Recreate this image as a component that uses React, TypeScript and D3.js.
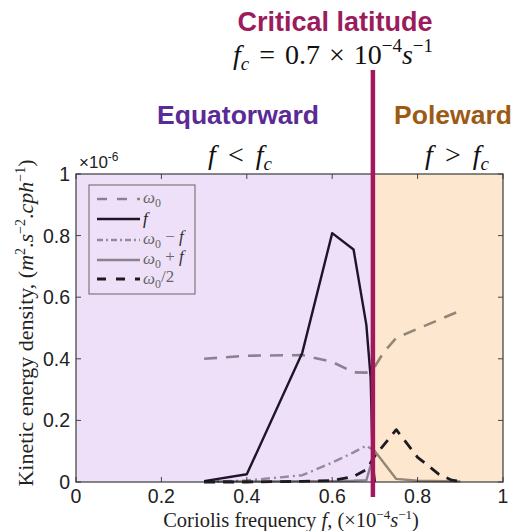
import * as d3 from 'd3'

// values in units of 1e-6 (y) and 1e-4 s^-1 (x)
const omega0X = [0.3, 0.4, 0.53, 0.6, 0.65, 0.68, 0.7, 0.72, 0.75, 0.9]
const omega0Y = [0.4, 0.41, 0.412, 0.39, 0.356, 0.355, 0.375, 0.42, 0.468, 0.556]

const fX = [0.3, 0.4, 0.53, 0.6, 0.65, 0.68, 0.69, 0.695, 0.7]
const fY = [0.003, 0.025, 0.42, 0.808, 0.755, 0.51, 0.34, 0.06, 0.0]

const omMinusFX = [0.3, 0.4, 0.53, 0.6, 0.65, 0.68, 0.7]
const omMinusFY = [0.0, 0.005, 0.022, 0.063, 0.096, 0.118, 0.1]

const omPlusFX = [0.3, 0.4, 0.53, 0.6, 0.65, 0.68, 0.7, 0.75, 0.8, 0.9]
const omPlusFY = [0.002, 0.002, 0.003, 0.003, 0.004, 0.006, 0.1, 0.01, 0.004, 0.002]

const omHalfX = [0.3, 0.4, 0.53, 0.6, 0.65, 0.68, 0.7, 0.75, 0.8, 0.85, 0.88, 0.9]
const omHalfY = [0.0, 0.0, 0.002, 0.005, 0.018, 0.04, 0.085, 0.17, 0.08, 0.025, 0.006, 0.002]

const xTicks = [0, 0.2, 0.4, 0.6, 0.8, 1]
const yTicks = [0, 0.2, 0.4, 0.6, 0.8, 1]
const criticalF = 0.7

const W = 514
const H = 531
const left = 76
const right = 503
const top = 174
const bottom = 482

const serif = '"Liberation Serif", "DejaVu Serif", serif'
const sans = '"Liberation Sans", Arial, sans-serif'

interface Series {
    key: string
    xs: number[]
    ys: number[]
    color: string
    width: number
    dash?: string
    legendDash?: string
}

const series: Series[] = [
    { key: 'omega0', xs: omega0X, ys: omega0Y, color: 'rgba(0,0,0,0.42)', width: 2.6, dash: '13,9', legendDash: '10,10' },
    { key: 'f', xs: fX, ys: fY, color: '#1d1629', width: 2.4 },
    { key: 'om-f', xs: omMinusFX, ys: omMinusFY, color: 'rgba(0,0,0,0.38)', width: 2.4, dash: '9,4,2,4', legendDash: '6,3,2,3' },
    { key: 'om+f', xs: omPlusFX, ys: omPlusFY, color: 'rgba(0,0,0,0.42)', width: 2.4 },
    { key: 'om/2', xs: omHalfX, ys: omHalfY, color: '#1e1a22', width: 2.8, dash: '11,8', legendDash: '9,10' },
]

function Sub({ children }: { children: string }) {
    return (
        <tspan dy="0.3em" fontSize="0.7em" fontStyle="normal">
            {children}
        </tspan>
    )
}

export default function App() {
    const x = d3.scaleLinear().domain([0, 1]).range([left, right])
    const y = d3.scaleLinear().domain([0, 1]).range([bottom, top])
    const line = d3
        .line<[number, number]>()
        .x((d) => x(d[0]))
        .y((d) => y(d[1]))

    const xc = x(criticalF)

    // legend
    const legX0 = 97
    const legX1 = 140
    const legRows = [199, 219, 240, 260, 279]

    return (
        <svg
            width={W}
            height={H}
            style={{ position: 'absolute', left: 0, top: 0, background: 'white' }}
        >
            {/* regions */}
            <rect x={left} y={top} width={xc - left} height={bottom - top} fill="#eee0f8" />
            <rect x={xc} y={top} width={right - xc} height={bottom - top} fill="#fde7cf" />

            {/* ticks */}
            {xTicks.map((t) => (
                <g key={'xt' + t}>
                    <line x1={x(t)} x2={x(t)} y1={bottom} y2={bottom - 5} stroke="#444" />
                    <line x1={x(t)} x2={x(t)} y1={top} y2={top + 5} stroke="#444" />
                    <text
                        x={x(t)}
                        y={503}
                        textAnchor="middle"
                        fontFamily={sans}
                        fontSize={19.5}
                        fill="#222"
                    >
                        {t}
                    </text>
                </g>
            ))}
            {yTicks.map((t) => (
                <g key={'yt' + t}>
                    <line x1={left} x2={left + 5} y1={y(t)} y2={y(t)} stroke="#444" />
                    <line x1={right} x2={right - 5} y1={y(t)} y2={y(t)} stroke="#444" />
                    <text
                        x={70}
                        y={y(t) + 7}
                        textAnchor="end"
                        fontFamily={sans}
                        fontSize={19.5}
                        fill="#222"
                    >
                        {t}
                    </text>
                </g>
            ))}
            <rect
                x={left}
                y={top}
                width={right - left}
                height={bottom - top}
                fill="none"
                stroke="#3a3a3a"
                strokeWidth={1.2}
            />

            {/* exponent */}
            <text x={79} y={168} fontFamily={sans} fontSize={17} fill="#222">
                ×10
                <tspan dy={-7} fontSize={12}>
                    -6
                </tspan>
            </text>

            {/* curves */}
            {series.map((s) => (
                <path
                    key={s.key}
                    d={line(s.xs.map((v, i) => [v, s.ys[i]] as [number, number])) ?? undefined}
                    fill="none"
                    stroke={s.color}
                    strokeWidth={s.width}
                    strokeDasharray={s.dash}
                    strokeLinejoin="round"
                />
            ))}

            {/* critical latitude line */}
            <line x1={xc - 2} x2={xc - 2} y1={70} y2={497} stroke="#a3175c" strokeWidth={4.5} />

            {/* legend */}
            <rect x={89} y={185} width={106} height={109} fill="none" stroke="#7a7a7a" strokeWidth={1.2} />
            {series.map((s, i) => (
                <line
                    key={'leg' + s.key}
                    x1={legX0}
                    x2={legX1}
                    y1={legRows[i]}
                    y2={legRows[i]}
                    stroke={s.color}
                    strokeWidth={s.width}
                    strokeDasharray={s.legendDash}
                />
            ))}
            <g fontFamily={serif} fontSize={17} fill="#222" fontStyle="italic">
                <text x={143} y={legRows[0] + 4} fill="#666">
                    ω<Sub>0</Sub>
                </text>
                <text x={143} y={legRows[1] + 5}>f</text>
                <text x={143} y={legRows[2] + 4} fill="#666">
                    ω<Sub>0</Sub>
                    <tspan dy="-0.3em" fontStyle="normal"> − </tspan>
                    <tspan fill="#333">f</tspan>
                </text>
                <text x={143} y={legRows[3] + 4} fill="#666">
                    ω<Sub>0</Sub>
                    <tspan dy="-0.3em" fontStyle="normal"> + </tspan>
                    <tspan fill="#333">f</tspan>
                </text>
                <text x={143} y={legRows[4] + 5} fill="#666">
                    ω<Sub>0</Sub>
                    <tspan dy="-0.3em" fontStyle="normal">/2</tspan>
                </text>
            </g>

            {/* titles */}
            <text
                x={335}
                y={31}
                textAnchor="middle"
                fontFamily={sans}
                fontWeight="bold"
                fontSize={27}
                fill="#9c1b5c"
            >
                Critical latitude
            </text>
            <text x={333} y={64} textAnchor="middle" fontFamily={serif} fontSize={28} fill="#111">
                <tspan fontStyle="italic">f</tspan>
                <tspan dy={6} fontSize={19} fontStyle="italic">c</tspan>
                <tspan dy={-6} dx={10}>=</tspan>
                <tspan dx={10}>0.7</tspan>
                <tspan dx={9}>×</tspan>
                <tspan dx={9}>10</tspan>
                <tspan dy={-12} fontSize={19}>−4</tspan>
                <tspan dy={12} fontStyle="italic">s</tspan>
                <tspan dy={-12} fontSize={19}>−1</tspan>
            </text>

            <text
                x={238}
                y={124}
                textAnchor="middle"
                fontFamily={sans}
                fontWeight="bold"
                fontSize={26.5}
                fill="#5a2a96"
            >
                Equatorward
            </text>
            <text x={240} y={164} textAnchor="middle" fontFamily={serif} fontSize={28} fill="#111">
                <tspan fontStyle="italic">f</tspan>
                <tspan dx={12}>&lt;</tspan>
                <tspan dx={12} fontStyle="italic">f</tspan>
                <tspan dy={6} fontSize={19} fontStyle="italic">c</tspan>
            </text>

            <text
                x={453}
                y={124}
                textAnchor="middle"
                fontFamily={sans}
                fontWeight="bold"
                fontSize={26.5}
                fill="#9d5a14"
            >
                Poleward
            </text>
            <text x={457} y={164} textAnchor="middle" fontFamily={serif} fontSize={28} fill="#111">
                <tspan fontStyle="italic">f</tspan>
                <tspan dx={12}>&gt;</tspan>
                <tspan dx={12} fontStyle="italic">f</tspan>
                <tspan dy={6} fontSize={19} fontStyle="italic">c</tspan>
            </text>

            {/* axis labels */}
            <text x={291} y={527} textAnchor="middle" fontFamily={serif} fontSize={20.5} fill="#222">
                Coriolis frequency <tspan fontStyle="italic">f</tspan>, (×10
                <tspan dy={-8} fontSize={13}>−4</tspan>
                <tspan dy={8} fontStyle="italic">s</tspan>
                <tspan dy={-8} fontSize={13}>−1</tspan>
                <tspan dy={8}>)</tspan>
            </text>
            <text
                transform="translate(33,323) rotate(-90)"
                textAnchor="middle"
                fontFamily={serif}
                fontSize={22}
                fill="#222"
            >
                Kinetic energy density, (<tspan fontStyle="italic">m</tspan>
                <tspan dy={-8} fontSize={14}>2</tspan>
                <tspan dy={8}>.</tspan>
                <tspan fontStyle="italic">s</tspan>
                <tspan dy={-8} fontSize={14}>−2</tspan>
                <tspan dy={8}>.</tspan>
                <tspan fontStyle="italic">cph</tspan>
                <tspan dy={-8} fontSize={14}>−1</tspan>
                <tspan dy={8}>)</tspan>
            </text>
        </svg>
    )
}
